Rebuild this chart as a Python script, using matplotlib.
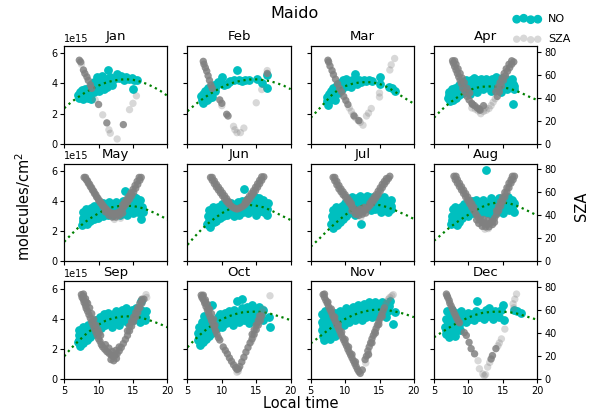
import matplotlib
matplotlib.use('Agg')
import matplotlib.pyplot as plt

# NO values in 1e15 molecules/cm2, (local time, value)
months = ['Jan', 'Feb', 'Mar', 'Apr', 'May', 'Jun', 'Jul', 'Aug', 'Sep', 'Oct', 'Nov', 'Dec']

jan_no = [(7.0, 3.2), (7.2, 3.0), (7.3, 3.4), (7.5, 3.1), (7.6, 3.55), (7.8, 2.95), (7.9, 3.3), (8.0, 3.6),
          (8.2, 3.2), (8.3, 3.45), (8.5, 3.0), (8.6, 3.7), (8.8, 3.3), (8.9, 2.95), (9.0, 3.6), (9.1, 3.95),
          (9.3, 3.4), (9.4, 4.1), (9.6, 3.7), (9.7, 4.4), (9.9, 4.0), (10.0, 3.5), (10.2, 4.2), (10.3, 3.8),
          (10.5, 4.5), (10.6, 4.0), (10.8, 3.6), (11.0, 4.3), (11.2, 3.75), (11.4, 4.9), (11.5, 4.1),
          (11.7, 4.4), (11.9, 3.9), (12.3, 4.3), (12.7, 4.6), (13.0, 4.35), (13.3, 4.5), (13.7, 4.2),
          (14.0, 4.45), (14.4, 4.3), (14.8, 4.35), (15.2, 4.25), (15.6, 4.2), (15.0, 3.65)]
feb_no = [(7.0, 3.15), (7.1, 2.9), (7.3, 2.7), (7.3, 3.3), (7.5, 3.0), (7.6, 3.5), (7.8, 2.9), (7.9, 3.2),
          (8.0, 3.7), (8.2, 3.0), (8.3, 3.4), (8.5, 3.6), (8.6, 3.1), (8.8, 3.9), (9.0, 3.5), (9.2, 3.8),
          (9.4, 4.1), (9.7, 4.05), (10.0, 4.4), (10.3, 3.9), (10.7, 3.95), (11.0, 4.1), (11.2, 4.15),
          (11.7, 4.2), (12.2, 4.9), (12.5, 4.2), (12.9, 4.15), (13.4, 4.2), (13.9, 4.25), (15.1, 4.3),
          (15.8, 4.05), (16.6, 3.7), (16.6, 4.55)]
mar_no = [(7.3, 2.8), (7.4, 3.1), (7.5, 2.55), (7.6, 3.3), (7.8, 2.9), (7.9, 3.5), (8.0, 3.1), (8.2, 3.7),
          (8.3, 3.3), (8.5, 2.9), (8.6, 3.6), (8.8, 3.9), (8.9, 3.35), (9.1, 3.75), (9.3, 4.05), (9.5, 3.6),
          (9.7, 4.2), (9.9, 3.9), (10.1, 4.3), (10.3, 3.85), (10.5, 4.1), (10.8, 3.75), (11.0, 4.2),
          (11.3, 4.05), (11.4, 4.6), (11.7, 3.95), (12.0, 4.2), (12.3, 4.1), (12.7, 4.25), (13.1, 4.15),
          (13.5, 4.2), (13.9, 4.15), (15.0, 4.4), (15.0, 3.95), (16.4, 3.75), (16.8, 3.7), (17.2, 3.5)]
apr_no = [(7.1, 3.0), (7.2, 3.4), (7.3, 2.8), (7.5, 3.2), (7.6, 3.6), (7.8, 2.9), (7.9, 3.3), (8.1, 3.7),
          (8.2, 3.05), (8.4, 3.45), (8.6, 3.9), (8.7, 3.2), (8.9, 3.6), (9.1, 4.1), (9.2, 3.35), (9.4, 3.8),
          (9.6, 4.25), (9.8, 3.55), (10.0, 3.9), (10.2, 3.3), (10.4, 4.2), (10.6, 3.7), (10.8, 4.35),
          (11.0, 3.95), (11.2, 3.45), (11.4, 4.2), (11.6, 3.8), (11.9, 4.3), (12.1, 3.6), (12.3, 4.05),
          (12.6, 4.3), (12.8, 3.75), (13.0, 4.15), (13.3, 3.5), (13.5, 4.3), (13.7, 3.9), (14.0, 4.4),
          (14.2, 3.7), (14.5, 4.1), (14.7, 3.45), (14.9, 4.35), (15.2, 3.9), (15.4, 4.3), (15.6, 3.6),
          (15.9, 4.1), (16.1, 3.75), (16.3, 4.3), (16.5, 3.95), (16.7, 3.6), (16.5, 2.65),
          (7.2, 3.2), (7.7, 3.4), (8.3, 3.25), (8.8, 3.4), (9.3, 3.6), (9.9, 3.7), (10.3, 3.75), (10.9, 3.6),
          (11.5, 4.0), (12.0, 3.9), (12.5, 3.8), (13.1, 3.7), (13.6, 4.1), (14.1, 3.9), (14.6, 3.75),
          (15.1, 4.1), (15.7, 3.85), (16.2, 4.05), (16.6, 3.8)]
may_no = [(7.6, 2.4), (7.7, 2.9), (7.8, 3.3), (7.9, 2.6), (8.0, 3.1), (8.1, 3.5), (8.3, 2.5), (8.4, 2.9),
          (8.5, 3.3), (8.7, 2.7), (8.8, 3.1), (8.9, 3.55), (9.1, 2.85), (9.2, 3.3), (9.4, 3.7), (9.5, 3.0),
          (9.7, 3.45), (9.9, 2.9), (10.0, 3.8), (10.2, 3.2), (10.4, 3.6), (10.6, 3.0), (10.7, 3.9),
          (10.9, 3.35), (11.1, 3.7), (11.3, 3.05), (11.5, 3.95), (11.7, 3.4), (11.9, 3.75), (12.1, 3.1),
          (12.3, 3.6), (12.5, 3.95), (12.7, 3.3), (12.9, 3.75), (13.1, 3.1), (13.3, 3.5), (13.5, 4.0),
          (13.7, 3.3), (13.9, 4.7), (14.0, 3.7), (14.2, 3.1), (14.4, 4.2), (14.6, 3.5), (14.8, 3.9),
          (15.0, 3.2), (15.2, 4.3), (15.4, 3.6), (15.6, 3.95), (15.8, 3.3), (16.0, 4.1), (16.1, 2.85),
          (16.3, 3.6), (16.4, 3.25),
          (7.7, 2.7), (8.2, 3.2), (8.6, 2.95), (9.0, 3.3), (9.3, 2.8), (9.6, 3.6), (10.1, 3.4), (10.5, 3.25),
          (10.8, 3.6), (11.2, 3.25), (11.6, 3.6), (12.0, 3.4), (12.4, 3.3), (12.8, 3.5), (13.2, 3.8),
          (13.6, 3.55), (14.1, 3.95), (14.3, 3.4), (14.7, 4.1), (15.1, 3.6), (15.5, 4.2), (15.9, 3.7),
          (16.2, 3.4)]
jun_no = [(7.9, 2.5), (8.0, 3.0), (8.1, 3.4), (8.3, 2.3), (8.4, 2.8), (8.5, 3.2), (8.7, 3.6), (8.8, 2.6),
          (8.9, 3.0), (9.1, 3.4), (9.2, 2.7), (9.4, 3.15), (9.5, 3.6), (9.7, 2.9), (9.9, 3.35), (10.0, 3.8),
          (10.2, 3.0), (10.4, 3.5), (10.6, 3.9), (10.7, 3.1), (10.9, 3.6), (11.1, 3.2), (11.3, 3.85),
          (11.5, 3.4), (11.7, 3.0), (11.9, 3.7), (12.1, 3.3), (12.3, 3.95), (12.5, 3.1), (12.7, 3.55),
          (12.9, 4.0), (13.1, 3.3), (13.2, 4.8), (13.4, 3.7), (13.6, 4.1), (13.8, 3.2), (14.0, 3.6),
          (14.2, 4.2), (14.4, 3.4), (14.6, 3.9), (14.8, 4.3), (15.0, 3.1), (15.2, 3.6), (15.4, 4.2),
          (15.6, 3.35), (15.8, 3.8), (16.0, 4.1), (16.2, 3.3), (16.4, 3.7), (16.6, 3.1), (16.7, 3.9),
          (8.2, 2.7), (8.6, 3.0), (9.0, 3.25), (9.3, 2.95), (9.6, 3.35), (10.1, 3.2), (10.5, 3.3),
          (10.8, 3.75), (11.2, 3.5), (11.6, 3.25), (12.0, 3.5), (12.4, 3.35), (12.8, 3.8), (13.3, 3.5),
          (13.7, 3.9), (14.1, 3.4), (14.5, 3.7), (14.9, 3.9), (15.3, 3.4), (15.7, 4.0), (16.1, 3.6),
          (16.5, 3.5)]
jul_no = [(8.0, 2.5), (8.1, 3.0), (8.2, 3.4), (8.3, 2.2), (8.4, 2.7), (8.6, 3.2), (8.7, 3.6), (8.8, 2.4),
          (9.0, 2.9), (9.1, 3.35), (9.3, 2.6), (9.4, 3.1), (9.5, 3.7), (9.7, 2.8), (9.8, 3.3), (10.0, 3.9),
          (10.1, 3.0), (10.3, 3.5), (10.5, 4.1), (10.6, 3.2), (10.8, 3.7), (11.0, 4.3), (11.1, 3.4),
          (11.3, 3.9), (11.5, 3.1), (11.7, 4.2), (11.9, 3.6), (12.1, 4.35), (12.3, 2.5), (12.4, 3.8),
          (12.6, 4.2), (12.8, 3.5), (13.0, 4.0), (13.2, 4.35), (13.4, 3.7), (13.6, 4.1), (13.8, 3.4),
          (14.0, 4.3), (14.2, 3.8), (14.4, 3.5), (14.6, 4.2), (14.8, 3.7), (15.0, 4.1), (15.2, 3.3),
          (15.4, 3.9), (15.6, 4.25), (15.8, 3.6), (16.0, 4.0), (16.2, 3.3), (16.4, 3.8), (16.6, 4.1),
          (16.7, 3.5),
          (8.2, 2.8), (8.5, 3.0), (8.9, 2.7), (9.2, 3.15), (9.6, 3.4), (9.9, 3.1), (10.2, 3.7), (10.4, 3.3),
          (10.9, 3.9), (11.2, 3.7), (11.6, 3.9), (12.0, 3.85), (12.2, 4.0), (12.7, 3.9), (13.1, 3.7),
          (13.5, 4.25), (13.9, 3.9), (14.3, 4.1), (14.7, 3.9), (15.1, 3.8), (15.5, 3.6), (15.9, 3.9),
          (16.3, 3.6), (16.6, 3.7)]
aug_no = [(7.5, 2.5), (7.6, 3.0), (7.7, 3.45), (7.9, 2.7), (8.0, 3.2), (8.1, 3.6), (8.3, 2.4), (8.4, 2.9),
          (8.5, 3.35), (8.7, 2.65), (8.8, 3.1), (8.9, 3.6), (9.1, 2.9), (9.2, 3.4), (9.4, 3.8), (9.6, 3.1),
          (9.7, 3.55), (9.9, 3.0), (10.0, 3.9), (10.2, 3.3), (10.4, 3.7), (10.5, 4.0), (10.7, 3.2),
          (10.9, 3.6), (11.1, 4.1), (11.3, 3.4), (11.5, 3.85), (11.7, 3.1), (11.9, 3.6), (12.1, 4.1),
          (12.3, 3.4), (12.5, 3.8), (12.5, 6.05), (12.7, 3.2), (12.9, 3.9), (13.1, 3.5), (13.3, 4.2),
          (13.5, 3.0), (13.7, 3.7), (13.9, 4.0), (14.1, 3.3), (14.3, 3.85), (14.5, 4.2), (14.7, 3.5),
          (14.9, 3.9), (15.1, 3.2), (15.3, 4.1), (15.5, 3.6), (15.7, 4.25), (15.9, 3.4), (16.1, 3.8),
          (16.3, 4.1), (16.4, 3.5), (16.6, 3.9), (16.7, 3.25),
          (7.6, 2.75), (8.0, 2.95), (8.4, 3.15), (8.8, 2.85), (9.3, 3.2), (9.6, 3.6), (10.1, 3.5),
          (10.6, 3.45), (11.0, 3.8), (11.4, 3.6), (11.8, 3.4), (12.2, 3.8), (12.6, 3.55), (13.0, 3.7),
          (13.4, 3.75), (13.8, 3.4), (14.2, 3.6), (14.6, 3.9), (15.0, 3.6), (15.4, 3.8), (15.8, 3.9),
          (16.2, 3.55), (16.5, 3.75)]
sep_no = [(7.0, 2.5), (7.1, 2.95), (7.2, 3.3), (7.3, 2.2), (7.4, 2.7), (7.6, 3.1), (7.7, 3.5), (7.8, 2.4),
          (8.0, 2.9), (8.1, 3.3), (8.3, 2.6), (8.4, 3.1), (8.5, 3.6), (8.7, 2.8), (8.9, 3.3), (9.0, 3.7),
          (9.2, 3.0), (9.4, 3.5), (9.6, 3.9), (9.8, 3.2), (10.0, 3.7), (10.2, 4.1), (10.4, 3.4),
          (10.6, 3.85), (10.8, 4.3), (11.0, 3.6), (11.2, 4.0), (11.4, 4.4), (11.6, 3.7), (11.8, 4.1),
          (12.0, 3.5), (12.2, 4.3), (12.4, 3.8), (12.6, 4.5), (12.8, 4.0), (13.0, 3.6), (13.2, 4.3),
          (13.4, 4.6), (13.6, 3.9), (13.8, 4.2), (14.0, 4.7), (14.2, 3.8), (14.4, 4.4), (14.6, 4.1),
          (14.8, 4.6), (15.0, 3.9), (15.2, 4.3), (15.4, 4.75), (15.6, 4.0), (15.8, 4.4), (16.0, 3.8),
          (16.1, 5.2), (16.2, 4.6), (16.4, 4.1), (16.6, 4.4), (16.8, 3.9), (16.9, 4.5),
          (7.1, 2.6), (7.5, 2.9), (7.9, 3.2), (8.2, 2.9), (8.6, 3.3), (9.1, 3.4), (9.5, 3.7), (9.9, 3.55),
          (10.3, 3.9), (10.7, 3.6), (11.1, 3.85), (11.5, 4.0), (11.9, 3.8), (12.3, 4.05), (12.7, 4.2),
          (13.1, 3.95), (13.5, 4.2), (13.9, 4.45), (14.3, 4.1), (14.7, 4.35), (15.1, 4.1), (15.5, 4.4),
          (15.9, 4.2), (16.3, 4.3), (16.7, 4.15)]
oct_no = [(6.5, 2.6), (6.6, 3.1), (6.7, 3.5), (6.8, 2.3), (6.9, 2.8), (7.0, 3.3), (7.1, 3.8), (7.2, 2.5),
          (7.4, 3.0), (7.4, 4.2), (7.5, 3.5), (7.7, 2.7), (7.8, 3.2), (7.9, 3.7), (8.1, 2.9), (8.2, 3.4),
          (8.4, 3.9), (8.5, 3.1), (8.6, 4.9), (8.7, 3.6), (8.9, 3.2), (9.1, 3.8), (9.3, 3.4), (9.4, 4.1),
          (9.6, 3.6), (9.8, 4.3), (10.0, 3.5), (10.2, 3.9), (10.4, 4.4), (10.6, 3.7), (10.8, 4.1),
          (11.0, 4.5), (11.2, 3.8), (11.4, 4.3), (11.6, 3.6), (11.8, 4.6), (12.0, 4.0), (12.2, 5.2),
          (12.3, 4.4), (12.5, 3.8), (12.7, 4.2), (12.9, 5.3), (13.0, 4.7), (13.2, 3.9), (13.4, 4.4),
          (13.6, 4.8), (13.8, 4.1), (14.0, 3.7), (14.2, 4.5), (14.4, 4.9), (14.6, 4.0), (14.8, 4.6),
          (15.0, 3.8), (15.2, 4.3), (15.4, 4.8), (15.6, 4.1), (15.8, 4.5), (16.0, 3.9), (16.8, 4.1),
          (17.0, 3.45),
          (6.7, 2.8), (7.0, 3.0), (7.3, 3.55), (7.6, 3.0), (8.0, 3.4), (8.3, 3.65), (8.8, 3.4), (9.2, 3.6),
          (9.5, 3.85), (9.9, 3.8), (10.3, 4.15), (10.7, 3.95), (11.1, 4.25), (11.5, 4.0), (11.9, 4.3),
          (12.4, 4.1), (12.8, 4.45), (13.3, 4.15), (13.7, 4.55), (14.1, 4.2), (14.5, 4.4), (14.9, 4.2),
          (15.3, 4.55), (15.7, 4.3), (16.0, 4.6)]
nov_no = [(6.6, 3.3), (6.7, 3.8), (6.7, 4.3), (6.8, 2.9), (6.9, 3.5), (7.0, 4.0), (7.0, 2.6), (7.1, 4.5),
          (7.2, 3.1), (7.3, 3.6), (7.4, 2.8), (7.5, 4.1), (7.6, 3.3), (7.7, 3.8), (7.8, 2.7), (7.9, 4.3),
          (8.0, 3.1), (8.1, 3.6), (8.3, 4.0), (8.4, 3.3), (8.5, 2.9), (8.6, 4.4), (8.8, 3.7), (9.0, 4.1),
          (9.1, 3.4), (9.3, 4.5), (9.5, 3.9), (9.7, 4.3), (9.9, 3.6), (10.1, 4.7), (10.3, 4.1), (10.5, 3.8),
          (10.7, 4.5), (10.9, 4.0), (11.1, 4.8), (11.3, 4.3), (11.5, 3.9), (11.7, 4.6), (11.9, 4.9),
          (12.1, 4.2), (12.3, 4.7), (12.5, 3.9), (12.7, 5.0), (12.9, 4.4), (13.1, 4.1), (13.3, 4.8),
          (13.5, 5.1), (13.7, 4.5), (13.9, 4.1), (14.1, 4.9), (14.3, 5.15), (14.5, 4.6), (14.7, 4.2),
          (14.9, 5.0), (15.1, 4.5), (15.3, 5.1), (15.5, 4.3), (15.7, 4.8), (15.9, 4.1), (16.1, 5.0),
          (16.3, 4.5), (16.5, 5.2), (17.0, 3.65), (17.2, 4.45),
          (6.8, 3.6), (7.1, 3.3), (7.3, 4.0), (7.6, 3.55), (7.9, 3.4), (8.2, 3.8), (8.7, 4.0), (9.2, 3.8),
          (9.6, 4.2), (10.0, 4.0), (10.4, 4.4), (10.8, 4.25), (11.2, 4.5), (11.6, 4.2), (12.0, 4.45),
          (12.4, 4.3), (12.8, 4.6), (13.2, 4.5), (13.6, 4.7), (14.0, 4.6), (14.4, 4.8), (14.8, 4.5),
          (15.2, 4.8), (15.6, 4.55), (16.0, 4.7), (16.4, 4.85)]
dec_no = [(6.6, 3.5), (6.7, 4.0), (6.8, 3.0), (6.9, 4.5), (7.0, 3.3), (7.1, 3.8), (7.2, 2.8), (7.3, 4.2),
          (7.4, 3.5), (7.5, 3.05), (7.6, 4.6), (7.7, 3.7), (7.8, 3.2), (7.9, 4.2), (8.0, 3.5), (8.1, 2.9),
          (8.2, 4.4), (8.3, 3.8), (8.4, 3.3), (8.6, 4.0), (8.7, 3.6), (8.9, 4.5), (9.0, 3.9), (9.3, 4.2),
          (9.6, 3.8), (9.9, 4.4), (10.2, 4.0), (10.5, 4.3), (10.8, 3.9), (11.1, 4.5), (11.3, 5.2),
          (11.6, 4.1), (11.9, 4.4), (12.2, 4.0), (12.5, 4.6), (12.8, 4.2), (13.0, 4.75), (13.3, 4.3),
          (13.6, 4.0), (13.9, 4.5), (14.2, 4.4), (14.5, 4.1), (14.8, 4.6), (15.0, 4.9), (15.2, 3.95),
          (16.7, 4.6), (17.1, 4.5), (17.6, 4.4),
          (6.7, 3.25), (7.0, 3.7), (7.3, 3.2), (7.6, 3.9), (7.9, 3.4), (8.2, 3.6), (8.5, 3.85), (8.8, 3.3)]

# solar zenith angle (deg): dense (dark) and sparse (light) points
jan_sza_dark = [(7.2, 72.5), (7.4, 71), (7.8, 64), (8.0, 61), (8.3, 58), (8.5, 55), (8.8, 51), (9.0, 48),
                (10.0, 34), (11.2, 18), (13.6, 16.5)]
jan_sza_light = [(7.5, 69), (9.5, 38), (10.6, 25), (11.5, 12), (11.7, 9), (12.7, 4), (14.5, 29.5),
                 (15.0, 35), (15.5, 41.5)]
feb_sza_dark = [(7.3, 71.5), (7.4, 69), (7.6, 66), (7.8, 63), (8.0, 59), (8.2, 55), (8.4, 51), (8.6, 48),
                (9.7, 38), (10.0, 35), (10.7, 25.5), (10.9, 24), (16.6, 61)]
feb_sza_light = [(10.0, 33), (11.7, 15), (11.9, 12), (12.2, 9.5), (12.7, 9.5), (13.2, 13.5), (15.0, 35.5),
                 (15.8, 47), (16.6, 63.5)]
mar_sza_dark = [(7.5, 72.5), (7.6, 71), (7.8, 67.5), (8.1, 63.5), (8.3, 60), (8.6, 56), (8.9, 52), (9.2, 48),
                (9.5, 45), (9.8, 41), (10.1, 37.5), (10.4, 34), (11.3, 24), (12.0, 20)]
mar_sza_light = [(10.6, 31), (10.9, 28), (11.2, 25), (11.5, 22.5), (11.9, 20), (12.2, 18.5), (12.6, 16),
                 (13.1, 24), (13.4, 26.5), (13.8, 30.5), (15.0, 40.5), (15.0, 44), (16.5, 64), (16.7, 68.5),
                 (17.2, 74)]
apr_sza_dark = [(7.7, 72), (7.8, 70), (8.0, 67), (8.2, 64), (8.4, 61), (8.6, 58), (8.8, 55), (9.0, 52),
                (9.2, 48), (9.5, 45), (9.8, 41), (10.1, 38), (10.5, 35), (10.9, 33), (11.3, 31), (11.7, 29),
                (10.6, 34), (11.6, 30), (12.2, 33), (14.2, 41), (14.5, 45), (14.8, 50), (15.1, 55),
                (15.4, 59), (15.7, 63), (16.0, 66), (16.3, 69), (16.6, 71),
                (8.0, 72), (8.2, 69), (8.5, 65), (8.8, 61), (9.1, 57), (9.4, 53), (9.8, 48), (10.2, 44),
                (14.0, 45), (14.3, 49), (14.6, 53), (14.9, 57), (15.2, 61), (15.5, 65), (15.9, 69), (16.3, 72)]
apr_sza_light = [(11.0, 30), (11.4, 28.5), (11.8, 26), (12.2, 28), (12.6, 29), (13.0, 30.5), (13.3, 33),
                 (13.6, 36), (13.9, 39), (12.4, 31), (10.5, 31)]
may_sza_dark = [(7.9, 73), (8.2, 71), (8.5, 68), (8.8, 65), (9.1, 62), (9.4, 59), (9.7, 56), (10.0, 53),
                (10.3, 50.5), (10.6, 48), (10.9, 46), (11.2, 44.5), (11.5, 43), (11.8, 42), (12.1, 41.5),
                (12.4, 41.5), (12.7, 42), (13.0, 43), (13.3, 44.5), (13.6, 46.5), (13.9, 49), (14.2, 51.5),
                (14.5, 54), (14.8, 57), (15.1, 60), (15.4, 63.5), (15.7, 67), (16.0, 70.5), (16.2, 73),
                (11.5, 40), (12.0, 38.5), (12.5, 38.5), (13.0, 40), (11.0, 43), (13.5, 42),
                (8.1, 73), (8.4, 70), (8.7, 67), (9.0, 64), (9.3, 61), (9.6, 58), (9.9, 55), (10.2, 52.5),
                (10.5, 50), (10.8, 47.5), (11.1, 45.5), (15.9, 73), (15.6, 69.5), (15.3, 66), (15.0, 62.5),
                (14.7, 59.5), (14.4, 56.5), (14.1, 54), (13.8, 51.5), (13.5, 49)]
may_sza_light = [(12.3, 36.5), (13.2, 37.5)]
jun_sza_dark = [(8.35, 73), (8.6, 70.5), (8.9, 67.5), (9.2, 64.5), (9.5, 62), (9.8, 59.5), (10.1, 57),
                (10.4, 54.5), (10.7, 52), (11.0, 50), (11.3, 48.5), (11.6, 47), (11.9, 46), (12.2, 45.5),
                (12.5, 46), (12.8, 47), (13.1, 48), (13.4, 49.5), (13.7, 51.5), (14.0, 54), (14.3, 56.5),
                (14.6, 59), (14.9, 61.5), (15.2, 64.5), (15.5, 67.5), (15.8, 70.5), (16.1, 73.5),
                (8.6, 73), (8.9, 70), (9.2, 67), (9.5, 64.5), (9.8, 62), (10.1, 59.5), (10.4, 57), (10.7, 54.5),
                (11.0, 52), (13.4, 51.5), (13.7, 54), (14.0, 56.5), (14.3, 59), (14.6, 61.5), (14.9, 64.5),
                (15.2, 67.5), (15.5, 70.5), (15.8, 73.5)]
jun_sza_light = []
jul_sza_dark = [(8.25, 73), (8.5, 70), (8.8, 66.5), (9.1, 63), (9.4, 60.5), (9.7, 58), (10.0, 56),
                (10.3, 53.5), (10.6, 51), (10.9, 48.5), (11.2, 46.5), (11.5, 44.5), (11.8, 43), (12.1, 42.5),
                (12.4, 43), (12.7, 44), (13.0, 45), (13.3, 46.5), (13.6, 48.5), (13.9, 50.5), (14.2, 53),
                (14.5, 55.5), (14.8, 58), (15.1, 61), (15.4, 64), (15.7, 67), (16.0, 69.5), (16.3, 72),
                (16.5, 74), (11.5, 41), (12.0, 40), (12.5, 41), (13.0, 42), (11.0, 44), (12.2, 45.5),
                (12.8, 47),
                (8.5, 73), (8.8, 69.5), (9.1, 66), (9.4, 63), (9.7, 60.5), (10.0, 58), (10.3, 55.5), (10.6, 53),
                (10.9, 50.5), (13.6, 50.5), (13.9, 53), (14.2, 55.5), (14.5, 58), (14.8, 61), (15.1, 64),
                (15.4, 67), (15.7, 69.5), (16.0, 72)]
jul_sza_light = [(12.3, 38.5)]
aug_sza_dark = [(7.9, 74), (8.1, 71), (8.4, 68), (8.7, 65), (9.0, 62), (9.3, 59), (9.6, 56), (9.9, 53),
                (10.2, 50), (10.5, 47), (10.8, 44), (11.1, 41), (11.4, 38.5), (11.7, 36), (12.0, 34),
                (12.3, 33), (12.6, 32.5), (12.9, 32.5), (13.2, 33.5), (13.5, 35), (13.8, 37.5), (14.1, 40.5),
                (14.4, 44), (14.7, 48), (15.0, 52), (15.3, 56), (15.6, 60), (15.9, 64), (16.2, 68),
                (16.5, 71), (16.7, 74), (11.5, 33), (12.0, 30.5), (12.5, 30), (13.0, 30), (13.5, 32),
                (12.2, 36.5), (12.8, 35.5), (11.2, 36), (13.8, 34),
                (8.2, 74), (8.4, 71), (8.7, 68), (9.0, 65), (9.3, 62), (9.6, 59), (9.9, 56), (10.2, 53),
                (10.5, 50), (10.8, 47), (14.1, 44), (14.4, 48), (14.7, 52), (15.0, 56), (15.3, 60), (15.6, 64),
                (15.9, 68), (16.2, 71), (16.4, 74)]
aug_sza_light = [(12.4, 28), (12.9, 28.5)]
sep_sza_dark = [(7.5, 73.5), (7.6, 71), (7.8, 69), (7.9, 66.5), (8.1, 64), (8.2, 61.5), (8.4, 59), (8.6, 56),
                (8.8, 53), (9.0, 50), (9.2, 47), (9.4, 44), (9.6, 41), (9.8, 38), (10.0, 35), (10.2, 33),
                (10.4, 30), (10.6, 28), (10.9, 26), (11.2, 24), (11.5, 22.5), (11.8, 21), (12.1, 20),
                (12.4, 20.5), (12.7, 22), (13.0, 24.5), (13.3, 27.5), (13.6, 31), (13.9, 34.5), (14.2, 38),
                (14.5, 42), (14.8, 46), (15.1, 50), (15.4, 54), (15.7, 58), (16.0, 62), (16.3, 66),
                (16.6, 69.5), (7.8, 72), (8.2, 67), (10.1, 40), (10.3, 38), (11.0, 30), (11.5, 27),
                (12.0, 24), (12.5, 25), (13.0, 28), (11.8, 17), (12.2, 16), (12.6, 18),
                (7.8, 74), (8.1, 70), (8.4, 66), (8.7, 62), (9.0, 57), (9.3, 52), (9.6, 47), (9.9, 43),
                (14.2, 42), (14.5, 46), (14.8, 50), (15.1, 54), (15.4, 58), (15.7, 62), (16.0, 66), (16.3, 69.5)]
sep_sza_light = [(16.9, 73.5), (17.0, 71)]
oct_sza_dark = [(7.0, 73), (7.1, 71), (7.3, 69), (7.5, 66), (7.7, 63), (7.9, 60), (8.1, 57), (8.3, 54),
                (8.5, 51), (8.7, 48), (8.9, 45), (9.1, 42), (9.3, 39), (9.5, 36), (9.7, 34), (10.2, 28),
                (10.5, 25), (10.8, 22), (11.1, 18.5), (11.4, 15.5), (11.7, 12.5), (12.0, 10), (12.2, 8.5),
                (12.4, 9), (12.6, 11), (12.9, 15), (13.2, 19), (13.5, 23.5), (13.8, 27.5), (14.1, 31.5),
                (14.4, 35), (14.7, 39), (15.0, 43), (15.3, 47), (15.6, 51), (15.8, 55), (7.2, 72), (7.6, 67),
                (8.0, 61),
                (7.3, 73), (7.6, 69), (7.9, 65), (8.2, 61), (8.5, 57), (8.8, 52), (9.0, 47), (14.4, 39),
                (14.7, 43), (15.0, 47), (15.3, 51), (15.5, 55)]
oct_sza_light = [(12.2, 6), (12.4, 7), (14.3, 33), (14.6, 37), (15.9, 58), (16.0, 61), (17.0, 72.5)]
nov_sza_dark = [(6.8, 73.5), (7.0, 71), (7.2, 68.5), (7.4, 66), (7.6, 63), (7.8, 60.5), (8.0, 58), (8.2, 55),
                (8.4, 52.5), (8.6, 50), (8.8, 47), (9.0, 44.5), (9.2, 42), (9.4, 39), (9.6, 36.5), (9.8, 34),
                (10.0, 31.5), (10.2, 29), (10.4, 26), (10.6, 23.5), (10.8, 21), (11.0, 18.5), (11.2, 16),
                (11.4, 13.5), (11.6, 11), (11.8, 8.5), (12.0, 6.5), (12.2, 5), (12.5, 8), (12.9, 17),
                (13.1, 20), (13.3, 24.5), (13.5, 28), (13.7, 31.5), (13.9, 35), (14.1, 38), (14.3, 41),
                (14.5, 44), (14.7, 47), (14.9, 50), (15.1, 53), (15.3, 56), (15.5, 59), (15.7, 62),
                (7.0, 74), (7.5, 67), (8.0, 61), (8.5, 54), (9.0, 47.5), (9.5, 41), (10.0, 34.5), (10.5, 28),
                (11.0, 21.5), (11.5, 15), (13.4, 21.5), (13.9, 31.5), (14.4, 40), (14.9, 47.5), (15.4, 54.5)]
nov_sza_light = [(15.9, 65), (16.1, 67.5), (16.3, 69.5), (16.5, 71), (16.8, 72.5), (17.0, 73.5), (13.4, 21),
                 (13.0, 14)]
dec_sza_dark = [(6.8, 74), (6.9, 72.5), (7.0, 71), (7.2, 68.5), (7.3, 66), (7.5, 63.5), (7.7, 61), (7.9, 58),
                (8.1, 55.5), (8.3, 53), (8.5, 50.5), (8.7, 49), (9.4, 40.5), (9.7, 38), (10.1, 32),
                (10.4, 26.5), (10.9, 22), (13.3, 17.5), (13.5, 20.5), (14.0, 26.5)]
dec_sza_light = [(11.4, 16), (11.6, 9), (12.1, 4.5), (12.3, 3), (12.5, 4), (12.8, 10.5), (13.1, 14.5),
                 (14.3, 29), (14.5, 31.5), (14.8, 35), (15.3, 43.5), (16.5, 65.5), (16.75, 69.5), (17.0, 74),
                 (16.6, 62)]

# fitted NO curve (1e15), read at local time 5..20
fit_t = list(range(5, 21))
fit_vals = [
    [2.35, 2.75, 3.08, 3.38, 3.64, 3.86, 4.04, 4.17, 4.25, 4.28, 4.24, 4.13, 3.97, 3.76, 3.5, 3.18],
    [2.15, 2.55, 2.9, 3.22, 3.5, 3.75, 3.95, 4.1, 4.2, 4.26, 4.27, 4.23, 4.15, 4.02, 3.85, 3.62],
    [1.72, 2.2, 2.7, 3.2, 3.58, 3.82, 3.97, 4.06, 4.09, 4.07, 3.97, 3.78, 3.52, 3.22, 2.93, 2.65],
    [1.72, 2.2, 2.6, 2.95, 3.27, 3.52, 3.7, 3.78, 3.8, 3.78, 3.74, 3.65, 3.5, 3.3, 3.08, 2.9],
    [1.3, 1.78, 2.22, 2.6, 2.92, 3.2, 3.45, 3.6, 3.68, 3.7, 3.68, 3.59, 3.44, 3.25, 3.03, 2.78],
    [1.1, 1.62, 2.1, 2.52, 2.88, 3.2, 3.45, 3.63, 3.73, 3.75, 3.7, 3.6, 3.42, 3.2, 2.97, 2.75],
    [0.98, 1.4, 1.85, 2.3, 2.7, 3.08, 3.4, 3.63, 3.75, 3.78, 3.74, 3.62, 3.45, 3.25, 3.05, 2.82],
    [1.37, 1.75, 2.15, 2.5, 2.82, 3.1, 3.38, 3.62, 3.8, 3.9, 3.92, 3.85, 3.7, 3.5, 3.28, 3.05],
    [1.52, 2.05, 2.5, 2.93, 3.3, 3.62, 3.88, 4.04, 4.14, 4.18, 4.16, 4.1, 3.98, 3.82, 3.65, 3.45],
    [2.12, 2.6, 3.02, 3.4, 3.72, 3.98, 4.18, 4.33, 4.44, 4.48, 4.49, 4.46, 4.36, 4.22, 4.08, 3.92],
    [2.38, 2.72, 3.08, 3.42, 3.72, 4.0, 4.22, 4.4, 4.52, 4.6, 4.62, 4.6, 4.52, 4.42, 4.28, 4.12],
    [2.78, 3.08, 3.37, 3.64, 3.88, 4.1, 4.27, 4.4, 4.46, 4.49, 4.48, 4.45, 4.37, 4.23, 4.09, 3.95],
]

no_data = [jan_no, feb_no, mar_no, apr_no, may_no, jun_no, jul_no, aug_no, sep_no, oct_no, nov_no, dec_no]
sza_dark = [jan_sza_dark, feb_sza_dark, mar_sza_dark, apr_sza_dark, may_sza_dark, jun_sza_dark,
            jul_sza_dark, aug_sza_dark, sep_sza_dark, oct_sza_dark, nov_sza_dark, dec_sza_dark]
sza_light = [jan_sza_light, feb_sza_light, mar_sza_light, apr_sza_light, may_sza_light, jun_sza_light,
             jul_sza_light, aug_sza_light, sep_sza_light, oct_sza_light, nov_sza_light, dec_sza_light]

fig, axes = plt.subplots(3, 4, figsize=(5.89, 4.13), dpi=100, sharex=True, sharey=True)
fig.subplots_adjust(left=0.109, right=0.912, top=0.889, bottom=0.082, wspace=0.195, hspace=0.205)

ms = 28
for i, ax in enumerate(axes.flat):
    t, v = zip(*no_data[i])
    h_no = ax.scatter(t, [x * 1e15 for x in v], s=ms, color='c', zorder=2)
    ax.plot(fit_t, [x * 1e15 for x in fit_vals[i]], ':', color='g', lw=1.6, zorder=3)
    ax.set_xlim(5, 20)
    ax.set_ylim(0, 6.5e15)
    ax.set_xticks([5, 10, 15, 20])
    ax.set_yticks([0, 2e15, 4e15, 6e15])
    ax.tick_params(labelsize=7, length=3, pad=2)
    ax.yaxis.get_offset_text().set_fontsize(7)
    ax.set_title(months[i], fontsize=9.5, pad=4)

    ax2 = ax.twinx()
    if sza_light[i]:
        t, v = zip(*sza_light[i])
        h_sza = ax2.scatter(t, v, s=ms, color='gray', alpha=0.3, edgecolors='none')
    t, v = zip(*sza_dark[i])
    ax2.scatter(t, v, s=ms, color='gray', alpha=0.85, edgecolors='none')
    ax2.set_ylim(0, 85)
    if i % 4 == 3:
        ax2.set_yticks([0, 20, 40, 60, 80])
        ax2.tick_params(labelsize=7, length=3, pad=2)
    else:
        ax2.set_yticks([])

fig.suptitle('Maido', fontsize=11.5, y=0.985)
fig.text(0.51, 0.012, 'Local time', ha='center', fontsize=10.5)
fig.text(0.022, 0.5, 'molecules/cm$^2$', va='center', rotation=90, fontsize=10.5)
fig.text(0.975, 0.5, 'SZA', va='center', rotation=90, fontsize=10.5)
fig.legend([h_no, h_sza], ['NO', 'SZA'], loc='upper right', bbox_to_anchor=(0.985, 0.99),
           scatterpoints=4, frameon=False, fontsize=8, handlelength=2.5, handletextpad=0.6,
           labelspacing=0.9)

fig.savefig('out.png', dpi=100)
